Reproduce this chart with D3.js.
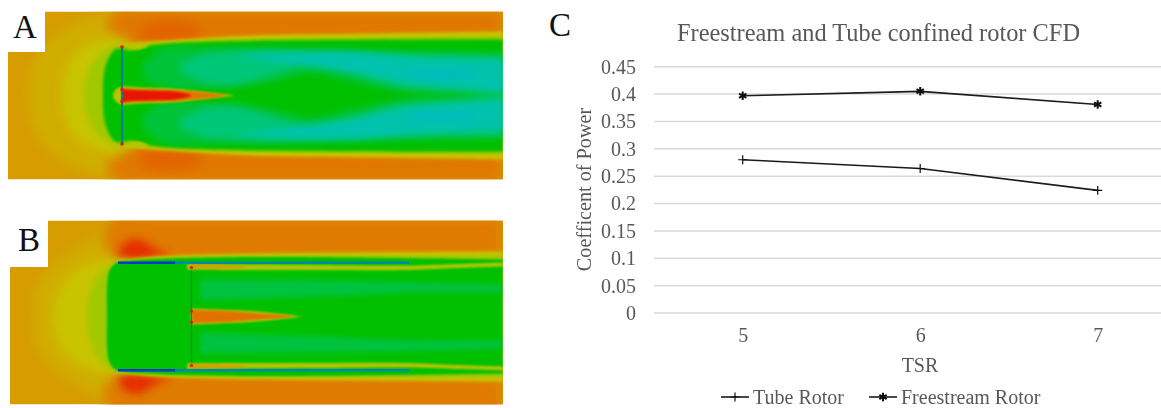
<!DOCTYPE html>
<html>
<head>
<meta charset="utf-8">
<script src="https://cdn.jsdelivr.net/npm/d3@7"></script>
<style>
html, body { margin: 0; padding: 0; background: #fff; }
svg { display: block; }
text { font-family: "Liberation Serif", serif; }
</style>
</head>
<body>
<svg id="fig" width="1161" height="408"></svg>
<script>
// chart C values
const tsr = [5, 6, 7];
const tubeRotor = [0.28, 0.264, 0.224];
const freestreamRotor = [0.397, 0.405, 0.381];
const yTicks = [0, 0.05, 0.1, 0.15, 0.2, 0.25, 0.3, 0.35, 0.4, 0.45];
const TEXTFILL = "#595959";

// colour ramp of the contour plots, 0 slow .. 1 fast
const rampStops = [0, 0.25, 0.35, 0.45, 0.55, 0.65, 0.75, 0.85, 1];
const rampColors = ["#0030d0", "#00b8c0", "#00c8a0", "#00c000", "#a0c800", "#c8c400", "#d89800", "#e07800", "#e81800"];

// contour bands of the field, each point is [axial, inner radius, outer radius], mirrored about the axis
// A: axial measured from the rotor plane
const haloA = [[-92,0,0],[-88,0,30],[-70,0,56],[-42,0,72],[-10,0,82],[8,0,76]];
const orangeA = [[-15,70,72],[0,60,86],[20,50,86],[60,50,86],[383,58,86]];
const deepOrangeA = [[20,56,70],[50,53,76],[80,56,70]];
const yellowA = [[-58,0,0],[-54,0,25],[-42,0,44],[-22,0,54],[-5,0,56],[8,0,50]];
const limeA = [[-36,0,0],[-33,0,20],[-25,0,36],[-12,0,47],[0,0,51],[10,0,50]];
const wakeEdgeA = [[5,0,52],[30,0,54],[60,0,56],[130,0,60],[250,0,62],[383,0,64]];
const wakeLimeA = [[5,0,50],[30,0,52],[130,0,57],[383,0,59]];
const wakeGreenA = [[-17,0,0],[-16,0,22],[-12,0,36],[-5,0,46],[2,0,47],[10,0,45],[30,0,50],[100,0,54],[383,0,56]];
const tipPatchA = [[8,48,50],[18,46,52],[28,49,51]];
const lobeA = [[22,20,30],[40,9,46],[110,8,47],[150,14,47],[190,22,46],[230,14,45],[280,4,44],[330,1,43],[383,0,42]];
const tealA = [[60,24,32],[85,13,42],[120,12,45],[150,20,45],[190,30,43],[230,23,43],[280,9,41],[330,5,40],[383,1,39]];
const cyanA = [[120,38,40],[170,32,43],[230,24,43],[290,12,38],[340,8,36],[383,4,35]];
const darkCyanA = [[285,20,22],[320,16,25],[355,20,22]];
const hubHaloA = [[-7,0,2],[-3,0,7],[2,0,9],[20,0,8],[50,0,7],[80,0,4],[116,0,0]];
const hubOrangeA = [[2,0,7],[20,0,6],[60,0,5],[90,0,2.5],[110,0,0]];
const hubRedA = [[2,0,6.5],[14,0,5.5],[30,0,5],[55,0,4],[68,0,1.5],[72,0,0]];
const bandsA = [
    [haloA, 0.7, 6], [orangeA, 0.85, 6], [deepOrangeA, 0.88, 5], [yellowA, 0.65, 5], [limeA, 0.55, 3],
    [wakeEdgeA, 0.65, 1.5], [wakeLimeA, 0.55, 1], [wakeGreenA, 0.45, 1.5], [tipPatchA, 0.6, 1],
    [lobeA, 0.415, 3.5], [tealA, 0.375, 3.5], [cyanA, 0.31, 3.5], [darkCyanA, 0.26, 3], [hubHaloA, 0.6, 1], [hubOrangeA, 0.85, 1], [hubRedA, 1, 1]
];
const rotorA = [[2, 0], [2, 47.5]];

// B: axial measured from the duct inlet
const haloB = [[-84,0,0],[-80,0,30],[-62,0,54],[-36,0,70],[-5,0,88],[5,0,85]];
const orangeB = [[-15,75,78],[0,60,100],[30,56,100],[386,58,100]];
const hotB = [[0,58,60],[8,58,74],[22,58,77],[38,60,68],[52,60,62]];
const yellowB = [[-64,0,0],[-58,0,25],[-46,0,42],[-25,0,53],[-5,0,56],[5,0,54]];
const limeB = [[-30,0,0],[-28,0,20],[-22,0,36],[-10,0,50],[0,0,55],[10,0,57]];
const wakeEdgeB = [[0,0,56],[40,0,60],[140,0,63],[386,0,65]];
const wakeLimeB = [[0,0,55],[40,0,59],[140,0,61],[386,0,61]];
const wakeGreenB = [[-10,0,0],[-10,0,30],[-8,0,45],[-3,0,52],[0,0,54],[30,0,57],[140,0,59.5],[386,0,57]];
const lobeB = [[83,16,37],[200,20,36],[300,24,34],[386,24,32]];
const ductBandB = [[70,47,52.5],[120,46.5,52],[200,46.5,51.5],[292,46.5,51],[340,48.5,52.5],[386,50,54]];
const ductSpotB = [[72,48,52],[90,48,52],[115,48,51],[130,49,50]];
const hubHaloB = [[74,0,8],[100,0,7],[140,0,5],[186,0,0]];
const hubOrangeB = [[75,0,6.5],[110,0,5.5],[140,0,3],[170,0,1],[176,0,0]];
const bandsB = [
    [haloB, 0.7, 6], [orangeB, 0.84, 6], [hotB, 0.97, 5], [yellowB, 0.65, 5], [limeB, 0.55, 3],
    [wakeEdgeB, 0.65, 1.5], [wakeLimeB, 0.55, 1], [wakeGreenB, 0.45, 1], [lobeB, 0.41, 2.5],
    [ductBandB, 0.6, 0.8], [ductSpotB, 0.74, 1], [hubHaloB, 0.6, 1], [hubOrangeB, 0.86, 1]
];
const rotorB = [[74.5, 0], [74.5, 46]];
const ductBlueB = [[1, 53.8], [58, 53.8]];
const ductTealB = [[50, 53.8], [292, 53.8]];

const svg = d3.select("#fig");
const defs = svg.append("defs");
const fieldColor = d3.scaleLinear().domain(rampStops).range(rampColors);

function blurId(b) {
    const id = "blur" + String(b).replace(".", "_");
    if (defs.select("#" + id).empty()) {
        // user space region, straight lines have an empty bounding box
        defs.append("filter").attr("id", id)
            .attr("filterUnits", "userSpaceOnUse")
            .attr("x", 0).attr("y", 0).attr("width", 1161).attr("height", 408)
            .append("feGaussianBlur").attr("stdDeviation", b);
    }
    return `url(#${id})`;
}

function drawField(name, xDomain, xRange, yDomain, yRange, bands, baseValue) {
    const x = d3.scaleLinear().domain(xDomain).range(xRange);
    const y = d3.scaleLinear().domain(yDomain).range(yRange);
    defs.append("clipPath").attr("id", "clip" + name)
        .append("rect")
        .attr("x", xRange[0]).attr("y", yRange[1])
        .attr("width", xRange[1] - xRange[0]).attr("height", yRange[0] - yRange[1]);
    const g = svg.append("g").attr("clip-path", `url(#clip${name})`);
    g.append("rect")
        .attr("x", xRange[0]).attr("y", yRange[1])
        .attr("width", xRange[1] - xRange[0]).attr("height", yRange[0] - yRange[1])
        .attr("fill", fieldColor(baseValue));
    const curve = d3.curveCatmullRom.alpha(0.5);
    bands.forEach(([pts, v, b]) => {
        // bands reaching the axis are one shape, no seam on the centre line
        const solid = pts.every(d => d[1] === 0);
        (solid ? [0] : [1, -1]).forEach(side => {
            const area = d3.area().curve(curve)
                .x(d => x(d[0]))
                .y0(d => solid ? y(-d[2]) : y(side * d[1]))
                .y1(d => solid ? y(d[2]) : y(side * d[2]));
            g.append("path").attr("d", area(pts))
                .attr("fill", fieldColor(v))
                .attr("filter", blurId(b));
        });
    });
    return { g, x, y };
}

function mirrorLine(f, pts, color, width) {
    [1, -1].forEach(side => {
        const line = d3.line().x(d => f.x(d[0])).y(d => f.y(side * d[1]));
        f.g.append("path").attr("d", line(pts))
            .attr("fill", "none").attr("stroke", color).attr("stroke-width", width)
            .attr("filter", blurId(0.5));
    });
}

function tipDots(f, axial, radii, v, size) {
    radii.forEach(r => {
        [1, -1].forEach(side => {
            f.g.append("circle")
                .attr("cx", f.x(axial)).attr("cy", f.y(side * r)).attr("r", size)
                .attr("fill", fieldColor(v)).attr("filter", blurId(0.5));
        });
    });
}

const fieldA = drawField("A", [-112, 383], [8, 503], [-84, 84], [179.5, 11.5], bandsA, 0.74);
mirrorLine(fieldA, rotorA, "#0078a8", 1.8);
tipDots(fieldA, 2, [48.5, 6], 1, 1.8);

const fieldB = drawField("B", [-107, 386], [10, 503], [-88, 96], [404.5, 220.5], bandsB, 0.74);
mirrorLine(fieldB, rotorB, "#107a60", 1.2);
mirrorLine(fieldB, ductTealB, "#0088a8", 2.4);
mirrorLine(fieldB, ductBlueB, "#0038d0", 2.6);
tipDots(fieldB, 74.5, [5.5, 49], 1, 1.6);

// white corners behind the letters
svg.append("rect").attr("x", 0).attr("y", 0).attr("width", 45).attr("height", 52).attr("fill", "#fff");
svg.append("rect").attr("x", 0).attr("y", 210).attr("width", 48).attr("height", 57).attr("fill", "#fff");

const letters = ["A", "B", "C"];
const letterX = [13, 18, 549];
const letterY = [38, 251, 36];
svg.selectAll(".letter").data(letters).enter().append("text")
    .attr("class", "letter")
    .attr("x", (d, i) => letterX[i])
    .attr("y", (d, i) => letterY[i])
    .attr("font-size", 33)
    .attr("fill", "#111")
    .text(d => d);

// chart C
const chart = svg.append("g").attr("filter", blurId(0.35));
const xScale = d3.scalePoint().domain(tsr).range([742.7, 1097.7]);
const yScale = d3.scaleLinear().domain([0, 0.45]).range([313, 66.7]);

chart.append("g").selectAll("line").data(yTicks).enter().append("line")
    .attr("x1", 654).attr("x2", 1161)
    .attr("y1", d => yScale(d)).attr("y2", d => yScale(d))
    .attr("stroke", "#d9d9d9").attr("stroke-width", 1.5);

const yAxis = chart.append("g").attr("transform", "translate(636,0)")
    .call(d3.axisLeft(yScale).tickValues(yTicks).tickSize(0).tickPadding(0).tickFormat(d => d));
yAxis.select(".domain").remove();
yAxis.selectAll("text").attr("font-size", 20).attr("font-family", "Liberation Serif").attr("fill", TEXTFILL);

const xAxis = chart.append("g").attr("transform", "translate(0,328)")
    .call(d3.axisBottom(xScale).tickSize(0).tickPadding(0));
xAxis.select(".domain").remove();
xAxis.selectAll("text").attr("font-size", 20).attr("font-family", "Liberation Serif").attr("fill", TEXTFILL);

const lineGen = d3.line().x((d, i) => xScale(tsr[i])).y(d => yScale(d));
const plusSym = d3.symbol().type(d3.symbolPlus).size(28);
const starSym = d3.symbol().type(d3.symbolAsterisk).size(50);

[[tubeRotor, plusSym, 1.2], [freestreamRotor, starSym, 2]].forEach(([vals, sym, sw]) => {
    chart.append("path").attr("d", lineGen(vals))
        .attr("fill", "none").attr("stroke", "#1a1a1a").attr("stroke-width", 1.6);
    chart.append("g").selectAll("path").data(vals).enter().append("path")
        .attr("transform", (d, i) => `translate(${xScale(tsr[i])},${yScale(d)})`)
        .attr("d", sym())
        .attr("fill", "none").attr("stroke", "#111").attr("stroke-width", sw);
});

chart.append("text").attr("x", 878.5).attr("y", 41).attr("text-anchor", "middle")
    .attr("font-size", 24.4).attr("fill", TEXTFILL).text("Freestream and Tube confined rotor CFD");
chart.append("text").attr("x", 920).attr("y", 372).attr("text-anchor", "middle")
    .attr("font-size", 20).attr("fill", TEXTFILL).text("TSR");
chart.append("text").attr("transform", "translate(591,189.5) rotate(-90)").attr("text-anchor", "middle")
    .attr("font-size", 20.2).attr("fill", TEXTFILL).text("Coefficent of Power");

// legend
const legendItems = [["Tube Rotor", plusSym, 1.2, 721], ["Freestream Rotor", starSym, 2, 869]];
legendItems.forEach(([label, sym, sw, lx]) => {
    chart.append("line").attr("x1", lx).attr("x2", lx + 28).attr("y1", 397).attr("y2", 397)
        .attr("stroke", "#1a1a1a").attr("stroke-width", 1.6);
    chart.append("path").attr("transform", `translate(${lx + 14},397)`).attr("d", sym())
        .attr("fill", "none").attr("stroke", "#111").attr("stroke-width", sw);
    chart.append("text").attr("x", lx + 32).attr("y", 404)
        .attr("font-size", 20).attr("fill", TEXTFILL).text(label);
});
</script>
</body>
</html>
